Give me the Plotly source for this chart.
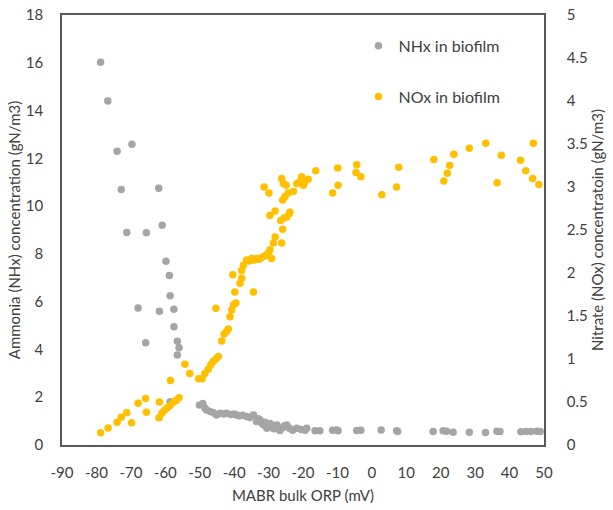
import plotly.graph_objects as go

# NHx in biofilm (left axis, gN/m3)
nhx_x = [-78.8, -76.7, -74.0, -69.7, -72.8, -61.9, -60.9, -71.2, -65.5, -59.8, -58.8, -58.6,
         -67.9, -61.7, -57.5, -57.5, -65.7, -56.5, -56.0, -56.5, -58.6, -50.1, -49.1,
         -48.5, -48.0, -47.0, -46.0, -45.1, -44.0, -43.0, -42.2, -41.0, -40.0, -39.3, -38.5,
         -37.5, -36.4, -35.5, -34.4, -33.5, -33.0, -32.5, -32.0, -31.5, -31.0, -30.5, -30.0,
         -29.5, -29.0, -28.5, -28.0, -27.6, -27.0, -26.7, -26.0, -25.5, -24.7, -24.0, -23.0,
         -21.8, -20.5, -19.4, -18.9, -16.5, -15.1, -11.4, -10.2, -9.8, -4.4, -3.2, 2.7, 7.2,
         7.5, 17.8, 20.7, 21.7, 23.6, 28.3, 33.0, 36.3, 37.2, 43.3, 44.8, 46.2, 47.9, 48.9]
nhx_y = [16.02, 14.4, 12.3, 12.59, 10.7, 10.75, 9.2, 8.9, 8.89, 7.69, 7.1, 6.25,
         5.73, 5.6, 5.68, 4.95, 4.28, 4.34, 4.07, 3.77, 1.81, 1.67, 1.74,
         1.55, 1.47, 1.40, 1.35, 1.26, 1.33, 1.30, 1.33, 1.28, 1.30, 1.26, 1.22,
         1.25, 1.19, 1.15, 1.26, 0.98, 1.10, 1.05, 0.92, 0.85, 0.95, 0.70, 0.80,
         0.90, 0.75, 0.68, 0.78, 0.84, 0.65, 0.61, 0.72, 0.80, 0.84, 0.70, 0.62,
         0.70, 0.65, 0.62, 0.70, 0.60, 0.60, 0.62, 0.63, 0.60, 0.61, 0.62, 0.63, 0.60,
         0.57, 0.56, 0.60, 0.58, 0.53, 0.53, 0.52, 0.58, 0.57, 0.55, 0.56, 0.57, 0.58, 0.57]

# NOx in biofilm (right axis, gN/m3)
nox_x = [-78.8, -76.6, -74.0, -72.8, -71.2, -69.8, -67.9, -65.7, -65.5, -61.7, -61.8, -61.0,
         -60.3, -59.5, -58.6, -57.6, -56.8, -56.0, -58.5, -54.3, -52.9, -50.3, -49.3, -48.5,
         -47.5, -46.8, -46.1, -45.3, -44.6, -43.6, -42.9, -42.2, -41.7, -45.3, -41.2, -40.7,
         -40.2, -39.5, -39.8, -34.4, -38.3, -37.8, -40.4, -37.8, -37.3, -36.4, -35.6, -34.9,
         -34.2, -33.5, -32.7, -32.0, -31.0, -30.1, -29.1, -29.6, -28.6, -28.1, -26.2, -25.9,
         -26.5, -25.5, -24.7, -24.0, -23.8, -29.6, -28.1, -25.9, -25.2, -24.3, -22.8, -21.8,
         -20.9, -20.4, -19.4, -18.5, -19.9, -31.3, -29.9, -26.2, -25.7, -24.9, -16.3, -9.9,
         -9.8, -11.4, -4.4, -4.6, -3.2, 2.9, 7.2, 7.8, 18.0, 20.9, 21.9, 22.6, 23.8, 28.3,
         33.1, 36.4, 37.6, 43.2, 44.7, 46.7, 46.9, 48.5]
nox_y = [0.143, 0.198, 0.264, 0.322, 0.376, 0.26, 0.485, 0.54, 0.38, 0.50, 0.318, 0.37,
         0.40, 0.43, 0.46, 0.50, 0.52, 0.55, 0.75, 0.94, 0.83, 0.77, 0.77, 0.83,
         0.88, 0.93, 0.97, 1.0, 1.03, 1.21, 1.29, 1.32, 1.35, 1.59, 1.49, 1.57,
         1.63, 1.65, 1.78, 1.78, 1.88, 1.94, 1.98, 2.03, 2.09, 2.15, 2.14, 2.17,
         2.15, 2.17, 2.16, 2.18, 2.20, 2.23, 2.17, 2.27, 2.35, 2.42, 2.35, 2.51,
         2.61, 2.64, 2.65, 2.69, 2.71, 2.67, 2.72, 2.85, 2.89, 2.93, 2.95, 3.04,
         3.06, 3.12, 3.06, 3.09, 3.02, 3.0, 2.93, 3.10, 3.04, 3.02, 3.19, 3.22,
         3.02, 2.93, 3.26, 3.17, 3.12, 2.91, 3.0, 3.23, 3.32, 3.07, 3.16, 3.25, 3.38, 3.45,
         3.51, 3.05, 3.37, 3.31, 3.19, 3.10, 3.51, 3.03]

# Tick values / labels
x_ticks = [-90, -80, -70, -60, -50, -40, -30, -20, -10, 0, 10, 20, 30, 40, 50]
x_ticklabels = ["-90", "-80", "-70", "-60", "-50", "-40", "-30", "-20", "-10", "0",
                "10", "20", "30", "40", "50"]
y_ticks = [0, 2, 4, 6, 8, 10, 12, 14, 16, 18]
y2_ticks = [0, 0.5, 1, 1.5, 2, 2.5, 3, 3.5, 4, 4.5, 5]
y2_ticklabels = ["0", "0.5", "1", "1.5", "2", "2.5", "3", "3.5", "4", "4.5", "5"]

font = "Lato, 'Open Sans', sans-serif"
axis_color = "#595959"
text_color = "#404040"

fig = go.Figure()
fig.add_trace(go.Scatter(x=nhx_x, y=nhx_y, mode="markers", name="NHx in biofilm",
                         legendgroup="a",
                         marker=dict(color="#A5A5A5", size=7.5)))
fig.add_trace(go.Scatter(x=nox_x, y=nox_y, mode="markers", name="NOx in biofilm",
                         legendgroup="b", yaxis="y2",
                         marker=dict(color="#FFC000", size=7.5)))

fig.update_layout(
    width=613, height=510,
    margin=dict(l=62, r=69, t=15, b=65),
    paper_bgcolor="white", plot_bgcolor="white",
    font=dict(family=font, size=15, color=text_color),
    xaxis=dict(range=[-90, 50], tickvals=x_ticks, ticktext=x_ticklabels,
               showgrid=False, zeroline=False, automargin=False,
               showline=True, linecolor=axis_color, linewidth=1.5, mirror=True, ticks="",
               ticklabelstandoff=13, tickfont=dict(size=15),
               title=dict(text="MABR bulk ORP (mV)", font=dict(size=15), standoff=11)),
    yaxis=dict(range=[0, 18], tickvals=y_ticks, showgrid=False, zeroline=False,
               automargin=False,
               showline=True, linecolor=axis_color, linewidth=1.5, ticks="",
               ticklabelstandoff=14, tickfont=dict(size=15),
               title=dict(text="Ammonia (NHx) concentration (gN/m3)", font=dict(size=15), standoff=2)),
    yaxis2=dict(range=[0, 5], tickvals=y2_ticks, ticktext=y2_ticklabels,
                showgrid=False, zeroline=False, overlaying="y", automargin=False,
                side="right", showline=True, linecolor=axis_color, linewidth=1.5, ticks="",
                ticklabelstandoff=18, tickfont=dict(size=15),
                title=dict(text="Nitrate (NOx) concentratoin (gN/m3)", font=dict(size=15), standoff=6)),
    legend=dict(x=0.615, y=0.968, xanchor="left", yanchor="top", bgcolor="rgba(0,0,0,0)",
                font=dict(size=16, color=text_color), tracegroupgap=27,
                itemwidth=30),
    showlegend=True,
)

fig.write_html("out.html")
